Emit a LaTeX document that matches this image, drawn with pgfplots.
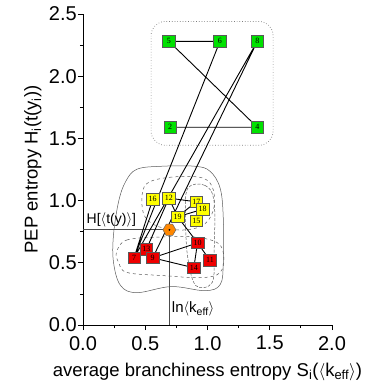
\documentclass[border=0pt]{standalone}
\usepackage{fontspec}
\setmainfont{Liberation Sans}
\newfontfamily\numfont{Liberation Serif}
\usepackage{pgfplots}
\pgfplotsset{compat=1.18}
\definecolor{ngreen}{RGB}{0,225,0}
\definecolor{nyellow}{RGB}{255,255,0}
\definecolor{nred}{RGB}{238,0,0}
\definecolor{horange}{RGB}{255,135,0}
\definecolor{cgray}{RGB}{90,90,90}
\pgfdeclareplotmark{hexagon}{%
  \pgfpathmoveto{\pgfqpointpolar{0}{\pgfplotmarksize}}%
  \pgfpathlineto{\pgfqpointpolar{60}{\pgfplotmarksize}}%
  \pgfpathlineto{\pgfqpointpolar{120}{\pgfplotmarksize}}%
  \pgfpathlineto{\pgfqpointpolar{180}{\pgfplotmarksize}}%
  \pgfpathlineto{\pgfqpointpolar{240}{\pgfplotmarksize}}%
  \pgfpathlineto{\pgfqpointpolar{300}{\pgfplotmarksize}}%
  \pgfpathclose
  \pgfusepathqfillstroke}
\pgfplotsset{
  nodebox/.style={only marks, mark=none, point meta=explicit symbolic,
    nodes near coords,
    every node near coord/.append style={anchor=center, draw=black!65, line width=0.5pt,
      fill=#1, inner sep=0pt, minimum width=12.5pt, minimum height=11.5pt,
      font=\numfont\fontsize{8}{8}\selectfont, text=black}},
}
\begin{document}
\begin{tikzpicture}
\begin{axis}[
  at={(0,0)}, anchor=south west,
  scale only axis, width=249pt, height=311pt,
  xmin=0, xmax=2, ymin=0, ymax=2.5,
  axis x line*=bottom, axis y line*=left,
  xtick={0,0.5,1,1.5,2}, ytick={0,0.5,1,1.5,2,2.5},
  minor x tick num=1, minor y tick num=1,
  tick align=outside, major tick length=5pt, minor tick length=3pt,
  xticklabel style={inner sep=1pt, yshift=-5pt, /pgf/number format/.cd, fixed, fixed zerofill, precision=1},
  yticklabel style={inner sep=1pt, /pgf/number format/.cd, fixed, fixed zerofill, precision=1},
  /pgf/number format/assume math mode=true,
  tick label style={font=\fontsize{20}{20}\selectfont},
  label style={font=\fontsize{18.5}{18.5}\selectfont},
  xlabel={average branchiness entropy S\textsubscript{i}($\langle$k\textsubscript{eff}$\rangle$)},
  ylabel={PEP entropy H\textsubscript{i}(t(y\textsubscript{i}))},
  xlabel style={yshift=-8pt},
  ylabel style={yshift=3pt},
  clip=false,
  axis line style={line width=0.8pt},
  tick style={line width=0.8pt, black},
  unbounded coords=jump,
]
% outer solid contour
\addplot[cgray, line width=0.5pt, smooth cycle, tension=0.6] coordinates {
(0.433,1.252) (0.629,1.276) (0.898,1.276) (1.020,1.236) (1.102,1.098) (1.127,0.854)
(1.127,0.504) (1.102,0.325) (0.980,0.276) (0.710,0.309) (0.433,0.260) (0.302,0.317)
(0.245,0.504) (0.245,0.724) (0.286,0.992) (0.343,1.154)};
% upper dashed contour
\addplot[cgray, line width=0.5pt, dashed, smooth cycle, tension=0.6] coordinates {
(0.514,1.138) (0.694,1.187) (0.939,1.187) (1.037,1.114) (1.053,0.951) (0.980,0.813)
(0.816,0.764) (0.612,0.789) (0.498,0.870) (0.473,1.016)};
% lower dashed contour
\addplot[cgray, line width=0.5pt, dashed, smooth cycle, tension=0.6] coordinates {
(0.269,0.585) (0.351,0.683) (0.629,0.707) (0.898,0.707) (1.102,0.642) (1.118,0.447)
(0.980,0.382) (0.629,0.398) (0.351,0.423) (0.286,0.504)};
% right dashed contour
\addplot[cgray, line width=0.5pt, dash pattern=on 3pt off 1.5pt, smooth cycle, tension=0.6] coordinates {
(0.841,1.098) (0.980,1.122) (1.053,0.992) (1.053,0.585) (1.037,0.341) (0.906,0.317)
(0.841,0.545) (0.824,0.854)};
% dotted box
\addplot[cgray!80, line width=0.7pt, dotted, rounded corners=14pt] coordinates {
(1.04,2.44) (1.527,2.44) (1.527,1.445) (0.547,1.445) (0.547,2.44) (1.04,2.44)};
% reference lines
\addplot[black!70, line width=0.6pt] coordinates {(0,0.77) (0.694,0.77)};
\addplot[black!70, line width=0.6pt] coordinates {(0.694,0) (0.694,0.77)};
% edges
\addplot[black, line width=0.9pt] coordinates {
(0.69,2.28) (1.10,2.28) (nan,nan)
(0.70,1.59) (1.40,1.59) (nan,nan)
(0.69,2.28) (1.40,1.59) (nan,nan)
(1.10,2.28) (0.41,0.54) (nan,nan)
(1.40,2.28) (0.41,0.54) (nan,nan)
(1.40,2.28) (0.56,0.54) (nan,nan)
(0.56,1.01) (0.41,0.54) (nan,nan)
(0.69,1.02) (0.51,0.61) (nan,nan)
(0.69,1.02) (0.76,0.87) (nan,nan)
(0.69,1.02) (0.91,0.99) (nan,nan)
(0.76,0.87) (0.91,0.99) (nan,nan)
(0.76,0.87) (0.96,0.93) (nan,nan)
(0.76,0.87) (0.92,0.66) (nan,nan)
(0.51,0.61) (0.56,0.54) (nan,nan)
(0.56,0.54) (0.92,0.66) (nan,nan)
(0.56,0.54) (0.89,0.46) (nan,nan)
(0.92,0.66) (0.89,0.46) (nan,nan)
(0.92,0.66) (1.02,0.52)};
% green nodes
\addplot[nodebox=ngreen] table[meta=lab] {
x y lab
0.69 2.28 5
1.10 2.28 6
1.40 2.28 8
0.70 1.59 2
1.40 1.59 4
};
% yellow nodes
\addplot[nodebox=nyellow] table[meta=lab] {
x y lab
0.56 1.01 16
0.69 1.02 12
0.91 0.99 17
0.96 0.93 18
0.76 0.87 19
0.91 0.84 15
};
% red nodes
\addplot[nodebox=nred] table[meta=lab] {
x y lab
0.92 0.66 10
0.51 0.61 13
0.41 0.54 7
0.56 0.54 9
0.89 0.46 14
1.02 0.52 11
};
% hexagon
\addplot[only marks, mark=hexagon, mark size=6.5pt, mark options={fill=horange, draw=black!60, line width=0.5pt}] coordinates {(0.694,0.765)};
\addplot[only marks, mark=*, mark size=0.7pt, black] coordinates {(0.694,0.765)};
\node[anchor=south west, inner sep=1pt, font=\fontsize{14}{14}\selectfont] at (axis cs:0.02,0.775) {H[$\langle$t(y)$\rangle$]};
\node[anchor=west, inner sep=1pt, font=\fontsize{15}{15}\selectfont] at (axis cs:0.705,0.13) {ln$\langle$k\textsubscript{eff}$\rangle$};
\end{axis}
\pgfresetboundingbox
\useasboundingbox (-83pt,-65pt) rectangle (283pt,325pt);
\end{tikzpicture}
\end{document}
